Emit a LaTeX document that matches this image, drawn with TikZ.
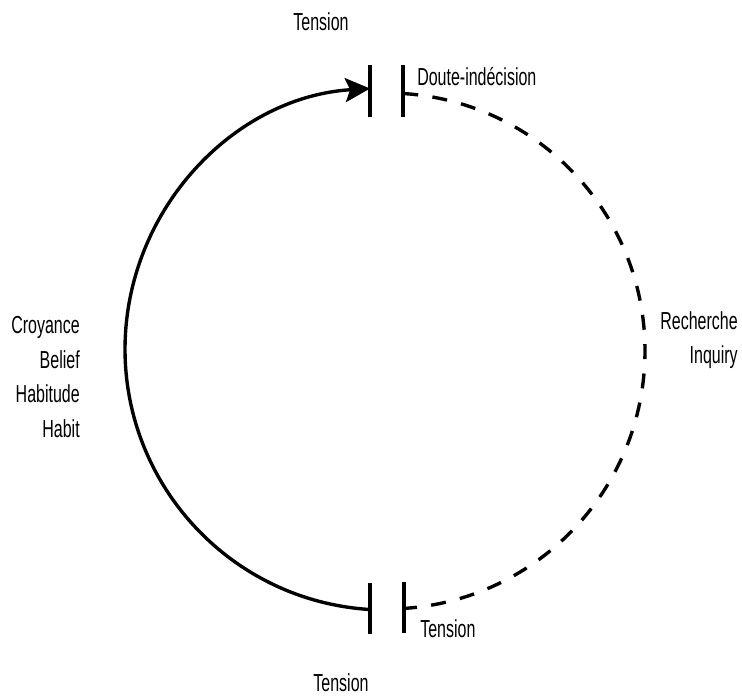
\documentclass[tikz,border=0pt]{standalone}
\usepackage{fontspec}
\setmainfont{Liberation Sans}[FakeStretch=0.65]
\usetikzlibrary{arrows.meta, positioning}
\tikzset{
  lbl/.style={inner sep=0pt, font=\fontsize{17.5}{24.5}\selectfont},
  bar/.style={line width=2.4pt},
  beliefarc/.style={line width=2.4pt, -{Stealth[length=0.62cm, width=0.6cm, inset=0.12cm]}},
  inquiryarc/.style={line width=2.4pt, dash pattern=on 0.375cm off 0.36cm}
}

\begin{document}
\begin{tikzpicture}
    \useasboundingbox (0,0) rectangle (18.55,-17.425);

    % Barres de tension (haut)
    \draw[bar] (9.25,-1.625) -- (9.25,-2.925);
    \draw[bar] (10.075,-1.625) -- (10.075,-2.925);

    % Barres de tension (bas)
    \draw[bar] (9.25,-14.575) -- (9.25,-15.85);
    \draw[bar] (10.1,-14.55) -- (10.1,-15.825);

    % Points d'attache des arcs
    \coordinate (Bbas) at (9.252,-15.238);
    \coordinate (Rhaut) at (10.08,-2.338);

    % Croyance / habitude (arc plein)
    \draw[beliefarc] (Bbas) arc[start angle=266.5, end angle=93.5, radius=6.525];

    % Recherche (arc en tirets)
    \draw[inquiryarc] (Rhaut) arc[start angle=86.4, end angle=-86.2, radius=6.45];

    % Textes
    \node[lbl, anchor=base] (tenshaut) at (8.025,-0.75) {Tension};
    \node[lbl, anchor=base west] (doute) at (10.425,-2.125) {Doute-indécision};
    \node[lbl, anchor=base west] (tensbas) at (10.5,-15.925) {Tension};
    \node[lbl, anchor=base] (tenspied) at (8.525,-17.28) {Tension};
    \node[lbl, anchor=base east, align=right] (croyance) at (2.0,-10.925)
        {Croyance\\Belief\\Habitude\\Habit};
    \node[lbl, anchor=base east, align=right, font=\fontsize{17.5}{23.5}\selectfont] (recherche) at (18.45,-9.075)
        {Recherche\\Inquiry};

\end{tikzpicture}
\end{document}
